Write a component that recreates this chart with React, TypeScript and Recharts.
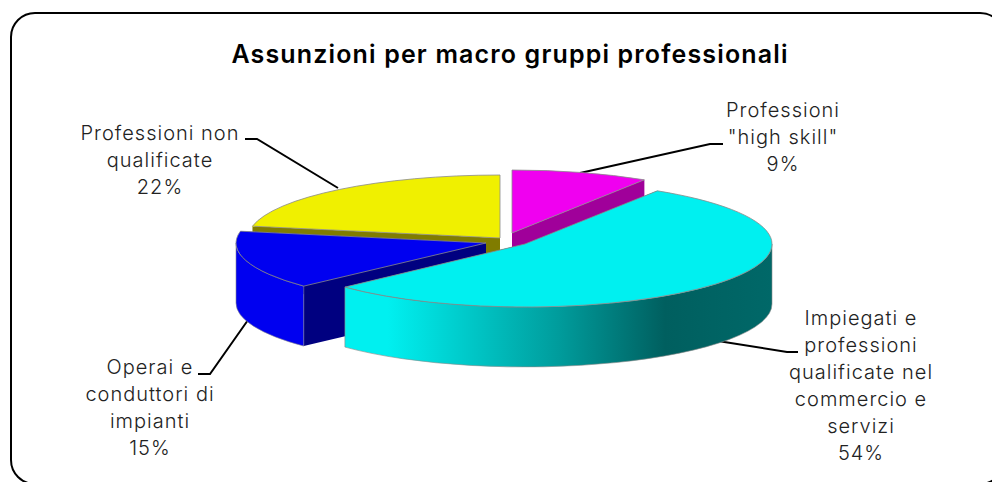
import { PieChart, Pie } from 'recharts';

const SLICE_NAMES = ['Professioni "high skill"', 'Impiegati e professioni qualificate nel commercio e servizi', 'Operai e conduttori di impianti', 'Professioni non qualificate'];
const SLICE_VALUES = [9, 54, 15, 22];
const data = SLICE_NAMES.map((name, i) => ({ name, value: SLICE_VALUES[i] }));

const LABEL_LINES = [
  ['Professioni', '"high skill"', '9%'],
  ['Impiegati e', 'professioni', 'qualificate nel', 'commercio e', 'servizi', '54%'],
  ['Operai e', 'conduttori di', 'impianti', '15%'],
  ['Professioni non', 'qualificate', '22%'],
];

// layout of the picture, not data
const LABEL_POS = [
  { x: 783, y: 117 },
  { x: 861, y: 325 },
  { x: 150, y: 374 },
  { x: 160, y: 140 },
];
const LEADERS = [
  '580,173 710,144 723,144',
  '718,341 787,352 798,352',
  '248,320 210,374 198,374',
  '338,188 257,139 245,139',
];
const EXPLODE = [
  { dx: 7, dy: -7, grow: 0 },
  { dx: 20, dy: 4, grow: 0 },
  { dx: -19, dy: 3, grow: 3 },
  { dx: -5, dy: -2, grow: 5 },
];
const TOP_COLORS = ['#f000f0', '#00f0f0', '#0000f0', '#f0f000'];
const FACE_COLORS = ['#a0009a', '#006060', '#000080', '#807c00'];
const WALL_COLORS = ['#a0009a', 'url(#cyanWall)', '#0000f0', '#807c00'];
const PAINT_ORDER = [0, 3, 2, 1];

const SQUASH = 0.255;
const DEPTH = 60;

function Slice3D(props: any) {
  const { cx, cy, outerRadius, startAngle, endAngle, index } = props;
  const ox = cx + EXPLODE[index].dx;
  const oy = cy + EXPLODE[index].dy;
  const rx = outerRadius + EXPLODE[index].grow;
  const ry = outerRadius * SQUASH;
  const px = (a: number) => ox + rx * Math.cos((a * Math.PI) / 180);
  const py = (a: number) => oy - ry * Math.sin((a * Math.PI) / 180);
  const hi = Math.max(startAngle, endAngle);
  const lo = Math.min(startAngle, endAngle);
  const large = hi - lo > 180 ? 1 : 0;
  const edge = '#8a8a8a';

  const top = `M${ox},${oy} L${px(hi)},${py(hi)} A${rx},${ry} 0 ${large} 1 ${px(lo)},${py(lo)} Z`;
  const face = (a: number) =>
    `M${ox},${oy} L${px(a)},${py(a)} L${px(a)},${py(a) + DEPTH} L${ox},${oy + DEPTH} Z`;

  // outer wall: only the front half of the rim shows, -180..0 in screen angles
  let wall = null;
  const w0 = Math.max(lo, -180);
  const w1 = Math.min(hi, 0);
  const w2 = Math.max(lo, -540);
  const w3 = Math.min(hi, -360);
  const [a0, a1] = w1 > w0 ? [w0, w1] : [w2, w3];
  if (a1 > a0) {
    const big = a1 - a0 > 180 ? 1 : 0;
    wall = (
      <path
        d={`M${px(a1)},${py(a1)} A${rx},${ry} 0 ${big} 1 ${px(a0)},${py(a0)} L${px(a0)},${py(a0) + DEPTH} A${rx},${ry} 0 ${big} 0 ${px(a1)},${py(a1) + DEPTH} Z`}
        fill={WALL_COLORS[index]}
        stroke={edge}
        strokeWidth={0.6}
      />
    );
  }

  return (
    <g>
      <path d={face(hi)} fill={FACE_COLORS[index]} />
      <path d={face(lo)} fill={FACE_COLORS[index]} />
      {wall}
      <path d={top} fill={TOP_COLORS[index]} stroke={edge} strokeWidth={0.8} strokeLinejoin="round" />
    </g>
  );
}

export default function App() {
  const font = 'Inter, Roboto, sans-serif';
  return (
    <div style={{ position: 'absolute', left: 0, top: 0, background: '#fff' }}>
      <PieChart width={992} height={482} margin={{ top: 0, right: 0, bottom: 0, left: 0 }}>
        <defs>
          <linearGradient id="cyanWall" gradientUnits="userSpaceOnUse" x1={345} y1={0} x2={772} y2={0}>
            <stop offset="0.1" stopColor="#00f0f0" />
            <stop offset="0.5" stopColor="#009c9c" />
            <stop offset="0.75" stopColor="#005f5f" />
            <stop offset="1" stopColor="#006868" />
          </linearGradient>
        </defs>
        <rect x={11} y={13} width={993} height={471} rx={24} fill="none" stroke="#000" strokeWidth={2} />
        <text x={510} y={63} textAnchor="middle" fontFamily={font} fontWeight={600} fontSize={25} letterSpacing={1.15} fill="#000">
          Assunzioni per macro gruppi professionali
        </text>
        {PAINT_ORDER.map((slice) => (
          <Pie
            key={slice}
            data={data}
            dataKey="value"
            nameKey="name"
            cx={505}
            cy={240}
            outerRadius={247}
            startAngle={90}
            endAngle={-270}
            stroke="none"
            isAnimationActive={false}
            shape={(props: any) => (props.index === slice ? <Slice3D {...props} /> : <g />)}
          />
        ))}
        {LEADERS.map((points) => (
          <polyline key={points} points={points} fill="none" stroke="#000" strokeWidth={2} />
        ))}
        {LABEL_LINES.map((lines, i) =>
          lines.map((line, j) => (
            <text
              key={`${i}-${j}`}
              x={LABEL_POS[i].x}
              y={LABEL_POS[i].y + j * 27}
              textAnchor="middle"
              fontFamily={font}
              fontWeight={300}
              fontSize={20}
              letterSpacing={1}
              fill="#222"
            >
              {line}
            </text>
          )),
        )}
      </PieChart>
    </div>
  );
}
